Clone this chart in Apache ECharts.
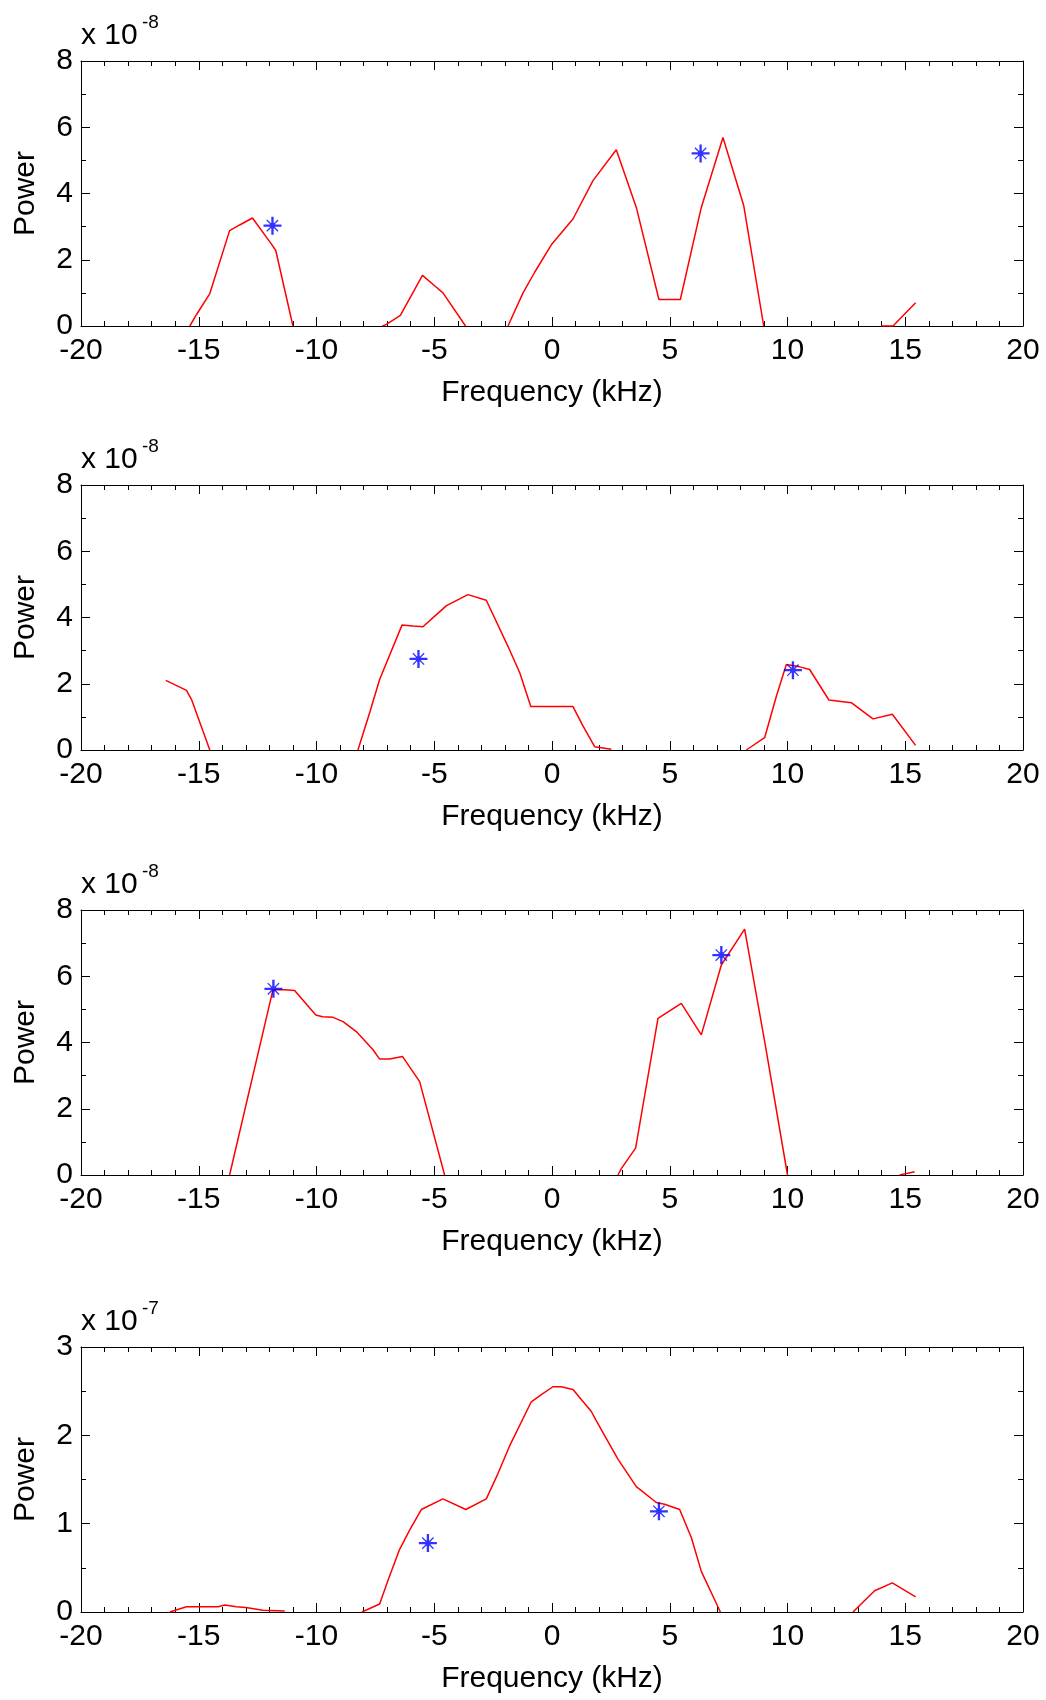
<!DOCTYPE html>
<html>
<head>
<meta charset="utf-8">
<script src="https://cdn.jsdelivr.net/npm/echarts@6/dist/echarts.min.js"></script>
<style>
html,body{margin:0;padding:0;background:#fff;}
#chart{width:1046px;height:1700px;}
</style>
</head>
<body>
<div id="chart"></div>
<script>
// Panel 1 (power in units of 1e-8), null = gap in the trace
var freq1  = [-15.38,-15.10,-14.53,-13.69,-13.26,-12.72,-11.92,-11.73,-11.00,null,-7.20,-7.03,-6.44,-5.50,-4.91,-4.63,-3.67,null,-1.87,-1.23,-0.73,-0.03,0.89,1.74,2.73,3.58,4.54,5.45,6.34,7.26,8.14,8.99,null,13.99,14.48,15.44];
var power1 = [0,0.34,0.98,2.88,3.05,3.26,2.48,2.28,0,null,0,0.05,0.32,1.53,1.17,1.00,0,null,0,1.00,1.63,2.45,3.23,4.39,5.32,3.58,0.80,0.80,3.58,5.69,3.64,0,null,0,0,0.70];
var starFreq1  = [-11.87, 6.31];
var starPower1 = [3.03, 5.21];

// Panel 2 (1e-8)
var freq2  = [-16.40,-15.52,-15.31,-14.53,null,-8.24,-7.74,-7.32,-6.37,-5.90,-5.48,-4.98,-4.48,-3.57,-2.79,-1.87,-1.37,-0.90,0.89,1.32,1.81,2.52,null,8.25,9.03,9.53,9.95,10.52,10.94,11.76,12.71,13.63,14.45,15.44];
var power2 = [2.10,1.80,1.53,0,null,0,1.13,2.13,3.77,3.74,3.72,4.04,4.36,4.69,4.52,3.13,2.33,1.31,1.31,0.72,0.10,0.02,null,0,0.37,1.63,2.58,2.51,2.43,1.51,1.43,0.94,1.08,0.14];
var starFreq2  = [-5.67, 10.23];
var starPower2 = [2.75, 2.41];

// Panel 3 (1e-8)
var freq3  = [-13.69,-11.85,-11.35,-10.93,-10.03,-9.74,-9.30,-8.87,-8.31,-7.60,-7.32,-6.89,-6.35,-5.62,-4.56,null,2.80,2.95,3.55,4.50,5.49,6.34,7.19,8.18,9.05,10.00,null,14.76,15.40];
var power3 = [0,5.59,5.59,5.57,4.83,4.78,4.76,4.63,4.33,3.78,3.50,3.50,3.58,2.82,0,null,0,0.20,0.81,4.73,5.18,4.23,6.34,7.42,3.95,0,null,0,0.10];
var starFreq3  = [-11.83, 7.19];
var starPower3 = [5.62, 6.64];

// Panel 4 (1e-7)
var freq4  = [-16.23,-15.52,-14.96,-14.18,-13.90,-13.40,-13.00,-12.27,-11.35,null,-8.07,-7.32,-6.92,-6.47,-6.04,-5.55,-4.63,-3.66,-2.79,-2.29,-1.80,-0.88,-0.45,0.04,0.39,0.89,1.67,1.89,2.38,2.80,3.58,4.43,4.78,5.42,5.92,6.34,7.15,null,12.78,13.70,14.45,15.44];
var power4 = [0,0.06,0.06,0.06,0.08,0.06,0.05,0.02,0.01,null,0,0.09,0.39,0.71,0.93,1.16,1.28,1.16,1.28,1.57,1.88,2.38,2.46,2.55,2.55,2.52,2.27,2.16,1.93,1.73,1.42,1.24,1.22,1.16,0.84,0.46,0,null,0,0.24,0.33,0.17];
var starFreq4  = [-5.27, 4.54];
var starPower4 = [0.78, 1.14];

// Axis settings
var xTicks = {min:-20, max:20, step:5};
var yMax = [8, 8, 8, 3];
var yStep = [2, 2, 2, 1];
var exponents = ['-8', '-8', '-8', '-7'];

var panels = [
  {f:freq1, p:power1, sf:starFreq1, sp:starPower1},
  {f:freq2, p:power2, sf:starFreq2, sp:starPower2},
  {f:freq3, p:power3, sf:starFreq3, sp:starPower3},
  {f:freq4, p:power4, sf:starFreq4, sp:starPower4}
];

var FONT = 'Liberation Sans, Arial, Helvetica, sans-serif';
var tops = [61, 485, 910, 1347];
var gridLeft = 81, gridW = 942, gridH = 265;

// asterisk marker: bold plus, thin diagonals, centre dot
var STAR = 'path://M8.7 0 L11.3 0 L11.3 20 L8.7 20 Z M0 8.7 L20 8.7 L20 11.3 L0 11.3 Z ' +
  'M4.2 3.2 L16.8 15.8 L15.8 16.8 L3.2 4.2 Z M15.8 3.2 L16.8 4.2 L4.2 16.8 L3.2 15.8 Z ' +
  'M7 7 L13 7 L13 13 L7 13 Z';

var grids = [], xAxes = [], yAxes = [], series = [], graphics = [];
var axLine = {show:true, onZero:false, lineStyle:{color:'#000', width:1}};

panels.forEach(function(pn, i){
  grids.push({left:gridLeft, top:tops[i], width:gridW, height:gridH, show:false});
  var xb = {
    type:'value', gridIndex:i, position:'bottom', min:xTicks.min, max:xTicks.max, interval:xTicks.step,
    axisLine:axLine,
    axisTick:{show:true, inside:true, length:9, lineStyle:{color:'#000', width:1}},
    minorTick:{show:true, splitNumber:5, length:5, lineStyle:{color:'#000', width:1}},
    splitLine:{show:false}, minorSplitLine:{show:false},
    axisLabel:{show:true, color:'#000', fontSize:30, fontFamily:FONT, margin:10},
    name:'Frequency (kHz)', nameLocation:'middle', nameGap:52,
    nameTextStyle:{color:'#000', fontSize:30, fontFamily:FONT}
  };
  var xt = JSON.parse(JSON.stringify(xb));
  xt.position = 'top'; xt.axisLabel = {show:false}; xt.name = '';
  var yl = {
    type:'value', gridIndex:i, position:'left', min:0, max:yMax[i], interval:yStep[i],
    axisLine:axLine,
    axisTick:{show:true, inside:true, length:9, lineStyle:{color:'#000', width:1}},
    minorTick:{show:true, splitNumber:2, length:5, lineStyle:{color:'#000', width:1}},
    splitLine:{show:false}, minorSplitLine:{show:false},
    axisLabel:{show:true, color:'#000', fontSize:30, fontFamily:FONT, margin:8},
    name:'Power', nameLocation:'middle', nameGap:40, nameRotate:90,
    nameTextStyle:{color:'#000', fontSize:30, fontFamily:FONT}
  };
  var yr = JSON.parse(JSON.stringify(yl));
  yr.position = 'right'; yr.axisLabel = {show:false}; yr.name = '';
  xAxes.push(xb, xt);
  yAxes.push(yl, yr);

  // split trace into segments at nulls
  var seg = [];
  var segs = [];
  for (var k = 0; k < pn.f.length; k++) {
    if (pn.f[k] === null) { if (seg.length) segs.push(seg); seg = []; }
    else seg.push([pn.f[k], pn.p[k]]);
  }
  if (seg.length) segs.push(seg);
  segs.forEach(function(s){
    series.push({type:'line', xAxisIndex:2*i, yAxisIndex:2*i, data:s, symbol:'none', showSymbol:false,
      lineStyle:{color:'#ff0000', width:1.5}, silent:true, animation:false});
  });
  series.push({type:'scatter', xAxisIndex:2*i, yAxisIndex:2*i,
    data: pn.sf.map(function(v, j){ return [v, pn.sp[j]]; }),
    symbol:STAR, symbolSize:18, itemStyle:{color:'#0000ff'}, silent:true, animation:false, z:5});

  graphics.push({type:'text', left:81, top:tops[i]-40, style:{text:'x 10', fontSize:30, fontFamily:FONT, fill:'#000'}});
  graphics.push({type:'text', left:142, top:tops[i]-48, style:{text:exponents[i], fontSize:19, fontFamily:FONT, fill:'#000'}});
});

var chart = echarts.init(document.getElementById('chart'), null, {renderer:'canvas'});
chart.setOption({
  backgroundColor:'#fff',
  animation:false,
  grid:grids, xAxis:xAxes, yAxis:yAxes, series:series, graphic:graphics
});
</script>
</body>
</html>
